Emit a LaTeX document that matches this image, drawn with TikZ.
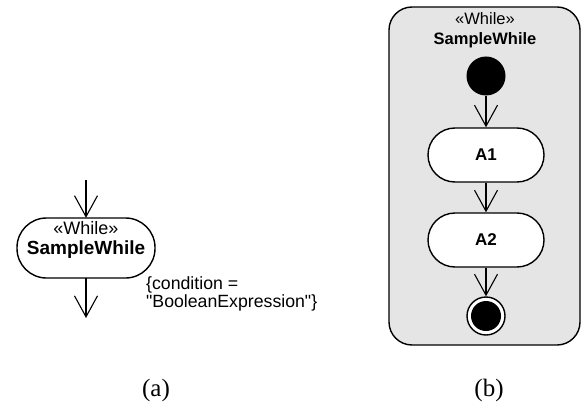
\documentclass[tikz,border=0pt]{standalone}
\usepackage{fontspec}
\setmainfont{Liberation Sans}[Ligatures=TeXOff]
\newfontfamily\capfont{Liberation Serif}
\usetikzlibrary{arrows.meta}
\definecolor{framegray}{RGB}{229,229,229}
\tikzset{
  flow/.style={line width=1.1pt, -{Straight Barb[length=21pt,width=23pt,line width=1.1pt]}},
  pill/.style={draw, line width=1.4pt, fill=white},
  caption/.style={font=\capfont\fontsize{25}{28}\selectfont, inner sep=0pt}
}
\begin{document}
\begin{tikzpicture}[x=1pt,y=-1pt]
\useasboundingbox (0,0) rectangle (585,414);
% (a)
\draw[pill, rounded corners=29.5pt] (17,218) rectangle (155,278);
\node (pa) at (86,248) [minimum width=138pt, minimum height=60pt, inner sep=0pt] {};
\node[font=\fontsize{18}{20}\selectfont, inner sep=0pt, anchor=base] (sta) at (86,234) {«While»};
\node[font=\bfseries\fontsize{19}{22}\selectfont, inner sep=0pt, anchor=base] (nma) at (86,254) {SampleWhile};
\coordinate (ain) at (86,180);
\coordinate (aout) at (86,318);
\draw[flow] (ain) -- (pa.north);
\draw[flow] (pa.south) -- (aout);
\node[font=\fontsize{17.7}{18.5}\selectfont, inner sep=0pt, anchor=north west, align=left] (cond) at (146,276) {\{condition =\\"BooleanExpression"\}};
% (b)
\draw[line width=1.4pt, fill=framegray, rounded corners=23pt] (389,7) rectangle (580,345);
\node[font=\fontsize{16.5}{20}\selectfont, inner sep=0pt, anchor=base] (stb) at (485,25) {«While»};
\node[font=\bfseries\fontsize{16.5}{20}\selectfont, inner sep=0pt, anchor=base] (nmb) at (485,45) {SampleWhile};
\node[circle, fill=black, minimum size=39pt, inner sep=0pt] (init) at (486,76) {};
\node[pill, rounded corners=27pt, minimum width=116pt, minimum height=54pt, inner sep=0pt, font=\bfseries\fontsize{17}{20}\selectfont] (a1) at (486,155) {A1};
\node[pill, rounded corners=27pt, minimum width=116pt, minimum height=54pt, inner sep=0pt, font=\bfseries\fontsize{17}{20}\selectfont] (a2) at (486,240) {A2};
\node[circle, draw, line width=1.4pt, fill=white, minimum size=38pt, inner sep=0pt] (fin) at (486,316) {};
\node[circle, fill=black, minimum size=30pt, inner sep=0pt] (finin) at (fin) {};
\draw[flow] (init.south) -- (a1.north);
\draw[flow] (a1.south) -- (a2.north);
\draw[flow] (a2.south) -- (fin.north);
% captions
\node[caption] (ca) at (156,390) {(a)};
\node[caption] (cb) at (489,390) {(b)};
\end{tikzpicture}
\end{document}
